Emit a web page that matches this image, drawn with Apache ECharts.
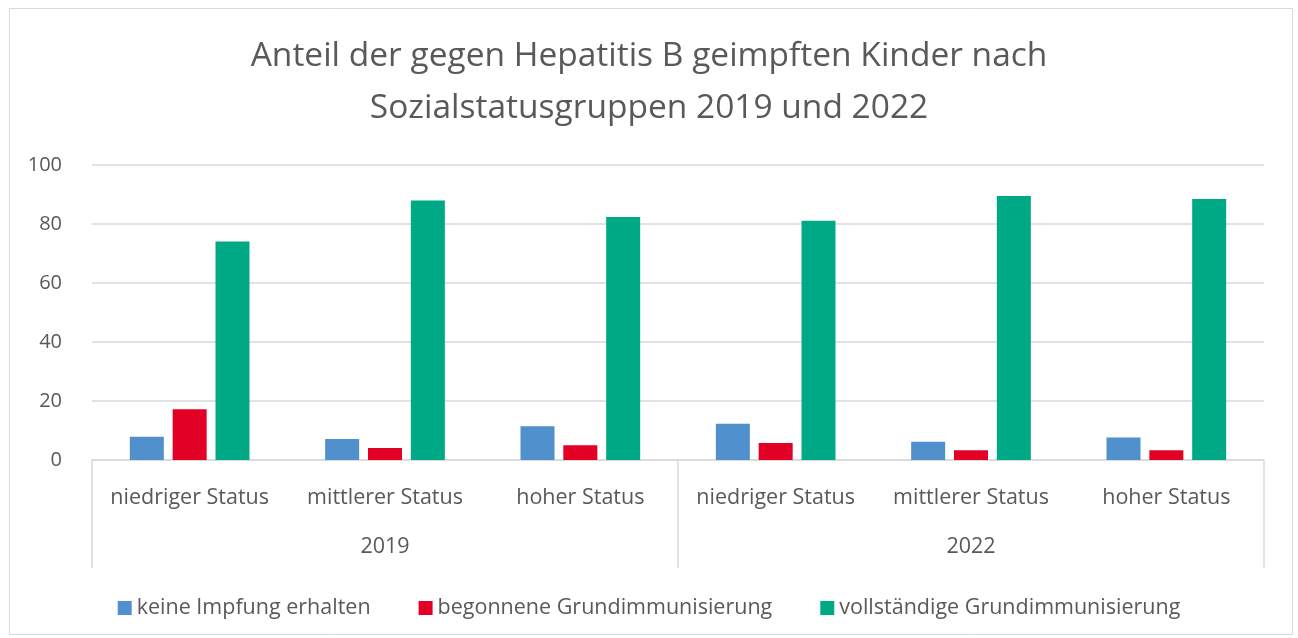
<!DOCTYPE html>
<html>
<head>
<meta charset="UTF-8">
<title>Hepatitis B Impfung</title>
<script src="https://cdn.jsdelivr.net/npm/echarts@6/dist/echarts.min.js"></script>
<style>
  body { margin: 0; background: #fff; }
  #chart { width: 1298px; height: 638px; }
</style>
</head>
<body>
<div id="chart"></div>
<script type="text/javascript">
// data (percent)
var statusGroups = ['niedriger Status', 'mittlerer Status', 'hoher Status',
                    'niedriger Status', 'mittlerer Status', 'hoher Status'];
var years = ['2019', '2022'];
var seriesNames = ['keine Impfung erhalten', 'begonnene Grundimmunisierung',
                   'vollständige Grundimmunisierung'];
var keineImpfung = [7.9, 7.1, 11.4, 12.3, 6.2, 7.6];
var begonnene = [17.2, 4.1, 5.0, 5.8, 3.3, 3.3];
var vollstaendige = [74.1, 88.0, 82.4, 81.1, 89.5, 88.5];
var yTicks = [0, 20, 40, 60, 80, 100];

var textColor = '#595959';
var gridColor = '#D9D9D9';
var fontName = 'Open Sans';

var chart = echarts.init(document.getElementById('chart'));

function barSeries(name, values, color) {
	return {
		name : name,
		type : 'bar',
		xAxisIndex : 0,
		barWidth : 34,
		barGap : '26%',
		itemStyle : {
			color : color
		},
		data : values
	};
}

chart.setOption({
	animation : false,
	textStyle : {
		fontFamily : fontName
	},
	graphic : [ {
		type : 'rect',
		left : 7,
		top : 6,
		shape : {
			width : 1283,
			height : 626
		},
		style : {
			fill : 'none',
			stroke : gridColor,
			lineWidth : 1
		},
		silent : true
	} ],
	title : {
		text : 'Anteil der gegen Hepatitis B geimpften Kinder nach\nSozialstatusgruppen 2019 und 2022',
		left : 'center',
		top : 25,
		textStyle : {
			fontFamily : fontName,
			fontSize : 33.5,
			fontWeight : 'normal',
			color : textColor,
			lineHeight : 52
		}
	},
	legend : {
		data : seriesNames,
		top : 592,
		left : 'center',
		itemWidth : 14,
		itemHeight : 14,
		itemGap : 48,
		icon : 'rect',
		textStyle : {
			fontFamily : fontName,
			fontSize : 21.5,
			color : textColor
		}
	},
	grid : {
		left : 92,
		right : 34,
		top : 165,
		bottom : 178
	},
	xAxis : [ {
		type : 'category',
		position : 'bottom',
		offset : 0,
		data : statusGroups,
		axisLine : {
			lineStyle : {
				color : gridColor,
				width : 1.5
			}
		},
		axisTick : {
			show : false
		},
		axisLabel : {
			interval : 0,
			margin : 27,
			fontSize : 21.5,
			color : textColor,
			fontFamily : fontName
		}
	}, {
		type : 'category',
		position : 'bottom',
		offset : 0,
		data : years,
		axisLine : {
			show : false
		},
		axisTick : {
			show : true,
			length : 108,
			lineStyle : {
				color : gridColor,
				width : 1.5
			}
		},
		axisLabel : {
			interval : 0,
			margin : 76,
			fontSize : 21.5,
			color : textColor,
			fontFamily : fontName
		},
		splitLine : {
			show : false
		}
	} ],
	yAxis : {
		type : 'value',
		min : yTicks[0],
		max : yTicks[yTicks.length - 1],
		interval : 20,
		axisLine : {
			show : false
		},
		axisTick : {
			show : false
		},
		axisLabel : {
			margin : 30,
			fontSize : 20,
			color : textColor,
			fontFamily : fontName
		},
		splitLine : {
			lineStyle : {
				color : gridColor,
				width : 1.5
			}
		}
	},
	series : [
		barSeries(seriesNames[0], keineImpfung, '#5090CD'),
		barSeries(seriesNames[1], begonnene, '#E30025'),
		barSeries(seriesNames[2], vollstaendige, '#00A985')
	]
});
</script>
</body>
</html>
